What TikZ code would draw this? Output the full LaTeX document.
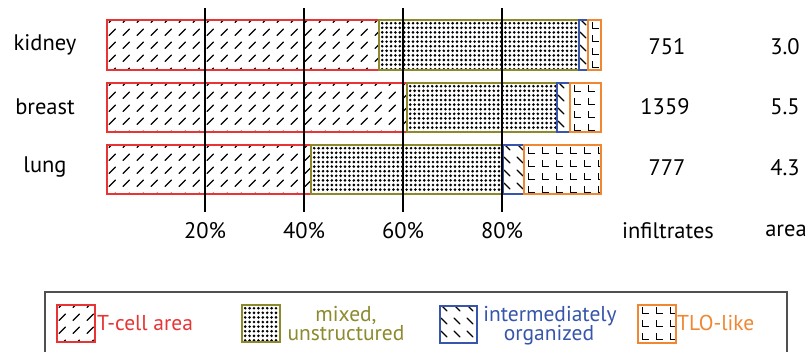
\documentclass[tikz,border=0pt]{standalone}
\usepackage{fontspec}
\setmainfont{PT Sans}
\definecolor{tred}{RGB}{232,52,52}
\definecolor{tolive}{RGB}{140,138,45}
\definecolor{tblue}{RGB}{55,85,170}
\definecolor{torange}{RGB}{240,135,50}
\definecolor{tgray}{RGB}{80,80,80}
\tikzset{
  patline/.style={black,line width=1.25pt,line cap=round},
  lline/.style={black,line width=1.0pt},
  segborder/.style={line width=1.4pt},
  gridline/.style={black,line width=1.3pt},
  lbl/.style={font=\fontsize{22.5}{24}\selectfont,inner sep=0pt},
  leg/.style={font=\fontsize{21.5}{18}\selectfont,inner sep=0pt,align=center},
  legup/.style={leg,anchor=base,text depth=2pt},
  legdown/.style={leg,anchor=base,text height=13pt},
}
% slash pattern "/"
\newcommand\slashpat[4]{%
  \begin{scope}
    \clip (#1,#2) rectangle (#3,#4);
    \pgfmathtruncatemacro\nx{(#3-#1)/14+1}
    \pgfmathtruncatemacro\ny{(#4-#2)/13+1}
    \foreach \i in {0,...,\nx}{\foreach \j in {0,...,\ny}{
      \draw[patline] (#1+\i*14+2,#2+\j*13+2.5) -- ++(6.5,-6.5);}}
  \end{scope}}
% backslash pattern
\newcommand\bslashpat[4]{%
  \begin{scope}
    \clip (#1,#2) rectangle (#3,#4);
    \pgfmathtruncatemacro\nx{(#3-#1)/13+1}
    \pgfmathtruncatemacro\ny{(#4-#2)/13+1}
    \foreach \i in {0,...,\nx}{\foreach \j in {0,...,\ny}{
      \draw[patline] (#1+\i*13+1,#2+\j*13-1) -- ++(6,6);}}
  \end{scope}}
% dot pattern
\newcommand\dotpat[4]{%
  \begin{scope}
    \clip (#1,#2) rectangle (#3,#4);
    \pgfmathtruncatemacro\nx{(#3-#1)/4.4+1}
    \pgfmathtruncatemacro\ny{(#4-#2)/4.6+1}
    \foreach \i in {0,...,\nx}{\foreach \j in {0,...,\ny}{
      \fill[black] (#1+\i*4.4+3.2,#2+\j*4.6+3.2) circle (1.45);}}
  \end{scope}}
% L pattern
\newcommand\lpat[4]{%
  \begin{scope}
    \clip (#1,#2) rectangle (#3,#4);
    \pgfmathtruncatemacro\nx{(#3-#1)/14+2}
    \pgfmathtruncatemacro\ny{(#4-#2)/13+1}
    \foreach \i in {-1,...,\nx}{\foreach \j in {0,...,\ny}{
      \draw[lline] (#1+\i*14+4,#2+\j*13+2) -- ++(0,6) -- ++(7,0);}}
  \end{scope}}
\newcommand\seg[6]{#6{#1}{#2}{#3}{#4}\draw[segborder,#5] (#1,#2) rectangle (#3,#4);}
\begin{document}
\begin{tikzpicture}[x=1pt,y=-1pt]
\useasboundingbox (0,0) rectangle (810,351);
\fill[white] (0,0) rectangle (810,351);
% kidney
\seg{107}{20}{379}{70}{tred}{\slashpat}
\seg{379}{20}{579}{70}{tolive}{\dotpat}
\seg{579}{20}{588}{70}{tblue}{\bslashpat}
\seg{588}{20}{601}{70}{torange}{\lpat}
% breast
\seg{107}{83}{407}{132}{tred}{\slashpat}
\seg{407}{83}{557}{132}{tolive}{\dotpat}
\seg{557}{83}{570}{132}{tblue}{\bslashpat}
\seg{570}{83}{601}{132}{torange}{\lpat}
% lung
\seg{107}{145}{311}{194}{tred}{\slashpat}
\seg{311}{145}{503}{194}{tolive}{\dotpat}
\seg{503}{145}{524}{194}{tblue}{\bslashpat}
\seg{524}{145}{601}{194}{torange}{\lpat}
% grid lines
\coordinate (g20t) at (205,8);  \coordinate (g20b) at (205,212);
\coordinate (g40t) at (304,8);  \coordinate (g40b) at (304,212);
\coordinate (g60t) at (403,8);  \coordinate (g60b) at (403,212);
\coordinate (g80t) at (502,8);  \coordinate (g80b) at (502,212);
\draw[gridline] (g20t) -- (g20b);
\draw[gridline] (g40t) -- (g40b);
\draw[gridline] (g60t) -- (g60b);
\draw[gridline] (g80t) -- (g80b);
% labels
\node[lbl] (kid) at (45,45) {kidney};
\node[lbl] (bre) at (45,107) {breast};
\node[lbl] (lun) at (45,167) {lung};
\node[lbl] (n1) at (667,47) {751};
\node[lbl] (n2) at (665,107) {1359};
\node[lbl] (n3) at (667,168) {777};
\node[lbl] (a1) at (785,47) {3.0};
\node[lbl] (a2) at (785,107) {5.5};
\node[lbl] (a3) at (785,168) {4.3};
\node[lbl] (p20) at (205,231) {20\%};
\node[lbl] (p40) at (304,231) {40\%};
\node[lbl] (p60) at (403,231) {60\%};
\node[lbl] (p80) at (502,231) {80\%};
\node[lbl] (inf) at (668,231) {infiltrates};
\node[lbl] (are) at (786,231) {area};
% legend
\draw[tgray,line width=1.5pt] (45,360) -- (45,292) -- (787,292) -- (787,360);
\seg{57}{305}{95}{342}{tred}{\slashpat}
\seg{242}{305}{280}{342}{tolive}{\dotpat}
\seg{440}{306}{477}{343}{tblue}{\bslashpat}
\seg{638}{305}{676}{343}{torange}{\lpat}
\node[leg,text=tred,anchor=base west] (lt) at (97,330) {T-cell area};
\node[legup,text=tolive] (lm1) at (346,321) {mixed,};
\node[legdown,text=tolive] (lm2) at (346,340) {unstructured};
\node[legup,text=tblue] (li1) at (550,321) {intermediately};
\node[legdown,text=tblue] (li2) at (549,340) {organized};
\node[leg,text=torange,anchor=base west] (lo) at (677,330) {TLO-like};
\end{tikzpicture}
\end{document}
